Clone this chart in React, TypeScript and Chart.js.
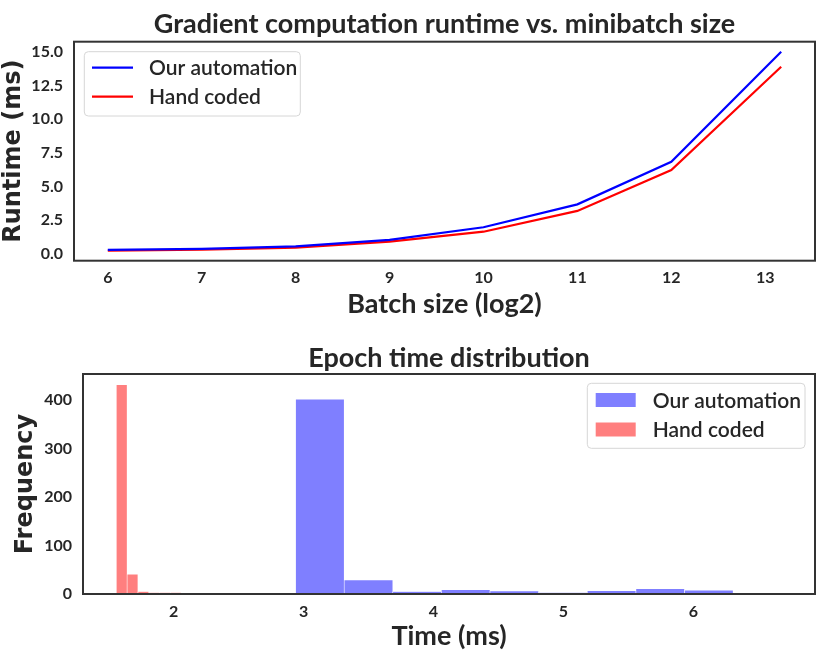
import React, { useEffect, useRef } from 'react';
import { Chart, registerables } from 'chart.js';

Chart.register(...registerables);

// ---------- data ----------
const seriesLabels = ['Our automation', 'Hand coded'];

const batchSizeLog2 = [6, 7, 8, 9, 10, 11, 12, 13.17];
const runtimeOurs = [0.3, 0.38, 0.56, 1.05, 1.98, 3.68, 6.84, 15.0];
const runtimeHand = [0.24, 0.32, 0.47, 0.91, 1.65, 3.19, 6.23, 13.88];
const runtimeXTicks = [6, 7, 8, 9, 10, 11, 12, 13];
const runtimeYTicks = [0, 2.5, 5, 7.5, 10, 12.5, 15];
const runtimeYTickLabels = ['0.0', '2.5', '5.0', '7.5', '10.0', '12.5', '15.0'];

const oursBinCenters = [3.126, 3.5, 3.874, 4.248, 4.622, 4.997, 5.371, 5.745, 6.119, 6.493];
const oursFrequency = [402, 29, 5, 9, 6, 3, 7, 11, 8, 2];
const handBinCenters = [1.601, 1.684, 1.768, 1.851, 1.935, 2.018, 2.101, 2.185, 2.268, 2.352];
const handFrequency = [432, 41, 5, 3, 3, 3, 1, 0, 1, 1];
const timeXTicks = [2, 3, 4, 5, 6];
const freqYTicks = [0, 100, 200, 300, 400];

const topTitle = 'Gradient computation runtime vs. minibatch size';
const bottomTitle = 'Epoch time distribution';

// ---------- style ----------
const TEXT = '#262626';
const FRAME = '#333333';
const W = 830;
const H1 = 330;
const H2 = 335;

const tickFont = { family: 'Lato', size: 16, weight: 'bold' as any };
const xTitleFont = { family: 'Lato', size: 27, weight: 'bold' as any };
const yTitleFont = { family: 'DejaVu Sans', size: 24, weight: 'bold' as any };

const framePlugin = {
  id: 'frame',
  afterDatasetsDraw(chart: any) {
    const { ctx, chartArea: a } = chart;
    ctx.save();
    ctx.strokeStyle = FRAME;
    ctx.lineWidth = 2;
    ctx.strokeRect(a.left, a.top, a.right - a.left, a.bottom - a.top);
    ctx.restore();
  },
};

function makeTitlePlugin(text: string, baseline: number) {
  return {
    id: 'ctitle',
    afterDraw(chart: any) {
      const { ctx, chartArea: a } = chart;
      ctx.save();
      ctx.font = 'bold 27px Lato';
      ctx.fillStyle = TEXT;
      ctx.textAlign = 'center';
      ctx.textBaseline = 'alphabetic';
      ctx.fillText(text, (a.left + a.right) / 2, baseline);
      ctx.restore();
    },
  };
}

function roundRect(ctx: CanvasRenderingContext2D, x: number, y: number, w: number, h: number, r: number) {
  ctx.beginPath();
  ctx.moveTo(x + r, y);
  ctx.lineTo(x + w - r, y);
  ctx.quadraticCurveTo(x + w, y, x + w, y + r);
  ctx.lineTo(x + w, y + h - r);
  ctx.quadraticCurveTo(x + w, y + h, x + w - r, y + h);
  ctx.lineTo(x + r, y + h);
  ctx.quadraticCurveTo(x, y + h, x, y + h - r);
  ctx.lineTo(x, y + r);
  ctx.quadraticCurveTo(x, y, x + r, y);
  ctx.closePath();
}

function makeLegendPlugin(box: { x: number; y: number; w: number; h: number }, rows: number[], sampleX: number, sampleW: number, textX: number, kind: 'line' | 'patch') {
  return {
    id: 'clegend',
    afterDraw(chart: any) {
      const { ctx } = chart;
      ctx.save();
      roundRect(ctx, box.x, box.y, box.w, box.h, 4);
      ctx.fillStyle = 'rgba(255,255,255,0.8)';
      ctx.fill();
      ctx.strokeStyle = '#d6d6d6';
      ctx.lineWidth = 1;
      ctx.stroke();
      chart.data.datasets.forEach((ds: any, i: number) => {
        const y = rows[i];
        if (kind === 'line') {
          ctx.strokeStyle = ds.borderColor;
          ctx.lineWidth = 2.2;
          ctx.beginPath();
          ctx.moveTo(sampleX, y);
          ctx.lineTo(sampleX + sampleW, y);
          ctx.stroke();
        } else {
          ctx.fillStyle = ds.backgroundColor;
          ctx.fillRect(sampleX, y - 7, sampleW, 14);
        }
        ctx.fillStyle = TEXT;
        ctx.font = '600 21px Lato';
        ctx.textAlign = 'left';
        ctx.textBaseline = 'middle';
        ctx.fillText(ds.label, textX, y + 1);
      });
      ctx.restore();
    },
  };
}

export default function App() {
  const ref1 = useRef<HTMLCanvasElement | null>(null);
  const ref2 = useRef<HTMLCanvasElement | null>(null);

  useEffect(() => {
    const c1 = new Chart(ref1.current as HTMLCanvasElement, {
      type: 'line',
      data: {
        datasets: [
          {
            label: seriesLabels[0],
            data: batchSizeLog2.map((x, i) => ({ x, y: runtimeOurs[i] })),
            borderColor: '#0000ff',
            borderWidth: 2.2,
            pointRadius: 0,
            fill: false,
            tension: 0,
          },
          {
            label: seriesLabels[1],
            data: batchSizeLog2.map((x, i) => ({ x, y: runtimeHand[i] })),
            borderColor: '#ff0000',
            borderWidth: 2.2,
            pointRadius: 0,
            fill: false,
            tension: 0,
          },
        ],
      },
      options: {
        responsive: false,
        animation: false,
        layout: { padding: { left: 0, right: 15, top: 41.7, bottom: 0 } },
        plugins: { legend: { display: false }, title: { display: false }, tooltip: { enabled: false } },
        scales: {
          x: {
            type: 'linear',
            min: 5.64,
            max: 13.53,
            grid: { display: false, drawTicks: false },
            border: { display: false },
            afterBuildTicks: (s: any) => {
              s.ticks = runtimeXTicks.map((v) => ({ value: v }));
            },
            afterFit: (s: any) => {
              s.height = H1 - 260.7;
            },
            ticks: { padding: 8, font: tickFont, color: TEXT, callback: (v: any) => String(v) },
            title: { display: true, text: 'Batch size (log2)', font: xTitleFont, color: TEXT, padding: { top: 0, bottom: 10 } },
          },
          y: {
            type: 'linear',
            min: -0.5,
            max: 15.74,
            grid: { display: false, drawTicks: false },
            border: { display: false },
            afterBuildTicks: (s: any) => {
              s.ticks = runtimeYTicks.map((v) => ({ value: v }));
            },
            afterFit: (s: any) => {
              s.width = 74;
            },
            ticks: {
              padding: 11,
              font: tickFont,
              color: TEXT,
              callback: (v: any) => runtimeYTickLabels[runtimeYTicks.indexOf(Number(v))],
            },
            title: { display: true, text: 'Runtime (ms)', font: yTitleFont, color: TEXT, padding: { top: -1, bottom: 0 } },
          },
        },
      },
      plugins: [
        framePlugin,
        makeTitlePlugin(topTitle, 33),
        makeLegendPlugin({ x: 84.3, y: 51.7, w: 216, h: 64.3 }, [67.7, 96.7], 92, 41, 149, 'line'),
      ],
    } as any);

    const c2 = new Chart(ref2.current as HTMLCanvasElement, {
      type: 'bar',
      data: {
        datasets: [
          {
            label: seriesLabels[0],
            data: oursBinCenters.map((x, i) => ({ x, y: oursFrequency[i] })),
            xAxisID: 'x2',
            backgroundColor: 'rgba(0,0,255,0.5)',
            borderColor: 'rgba(255,255,255,0.8)',
            borderWidth: 0.6,
            borderSkipped: false,
            grouped: false,
            barPercentage: 1,
            categoryPercentage: 1,
          },
          {
            label: seriesLabels[1],
            data: handBinCenters.map((x, i) => ({ x, y: handFrequency[i] })),
            xAxisID: 'x',
            backgroundColor: 'rgba(255,0,0,0.5)',
            borderColor: 'rgba(255,255,255,0.8)',
            borderWidth: 0.6,
            borderSkipped: false,
            grouped: false,
            barPercentage: 1,
            categoryPercentage: 1,
          },
        ],
      },
      options: {
        responsive: false,
        animation: false,
        layout: { padding: { left: 12, right: 15, top: 44, bottom: 0 } },
        plugins: { legend: { display: false }, title: { display: false }, tooltip: { enabled: false } },
        scales: {
          x: {
            type: 'linear',
            min: 1.303,
            max: 6.936,
            offset: false,
            grid: { display: false, drawTicks: false },
            border: { display: false },
            afterBuildTicks: (s: any) => {
              s.ticks = timeXTicks.map((v) => ({ value: v }));
            },
            afterFit: (s: any) => {
              s.height = H2 - 264;
            },
            ticks: { padding: 8, font: tickFont, color: TEXT, callback: (v: any) => String(v) },
            title: { display: true, text: 'Time (ms)', font: xTitleFont, color: TEXT, padding: { top: 0, bottom: 13 } },
          },
          x2: {
            type: 'linear',
            min: 1.303,
            max: 6.936,
            offset: false,
            display: false,
            afterBuildTicks: (s: any) => {
              s.ticks = timeXTicks.map((v) => ({ value: v }));
            },
          },
          y: {
            type: 'linear',
            min: 0,
            max: 454,
            grid: { display: false, drawTicks: false },
            border: { display: false },
            afterBuildTicks: (s: any) => {
              s.ticks = freqYTicks.map((v) => ({ value: v }));
            },
            afterFit: (s: any) => {
              s.width = 83 - 12;
            },
            ticks: { padding: 11, font: tickFont, color: TEXT, callback: (v: any) => String(v) },
            title: { display: true, text: 'Frequency', font: yTitleFont, color: TEXT, padding: { top: -1, bottom: 0 } },
          },
        },
      },
      plugins: [
        framePlugin,
        makeTitlePlugin(bottomTitle, 37),
        makeLegendPlugin({ x: 587.3, y: 53.3, w: 217.7, h: 65 }, [70, 99.5], 595.7, 40, 652.7, 'patch'),
      ],
    } as any);

    return () => {
      c1.destroy();
      c2.destroy();
    };
  }, []);

  return (
    <div style={{ position: 'absolute', left: 0, top: 0, width: W, height: H1 + H2, background: '#ffffff' }}>
      <canvas ref={ref1} width={W} height={H1} style={{ display: 'block', width: W, height: H1 }} />
      <canvas ref={ref2} width={W} height={H2} style={{ display: 'block', width: W, height: H2 }} />
    </div>
  );
}
